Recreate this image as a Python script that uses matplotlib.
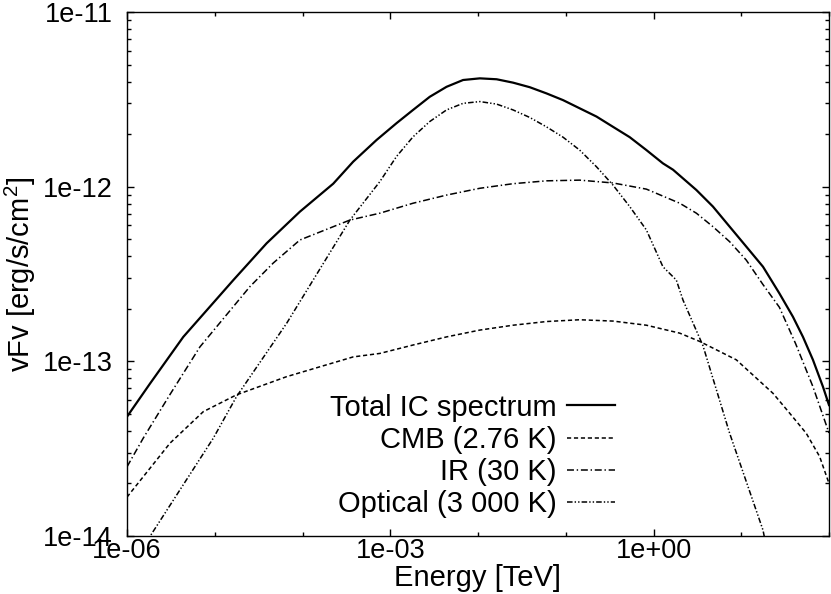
import matplotlib
matplotlib.use('Agg')
import matplotlib.pyplot as plt
from matplotlib.ticker import FixedLocator, LogLocator, FuncFormatter, NullFormatter

plt.rcParams['font.family'] = ['Liberation Sans', 'DejaVu Sans']
plt.rcParams['mathtext.fontset'] = 'custom'
plt.rcParams['mathtext.rm'] = 'Liberation Sans'
plt.rcParams['lines.scale_dashes'] = False

# energies in TeV, fluxes vFv in erg/s/cm^2
total_e = [1.00e-6, 1.83e-6, 4.38e-6, 1.63e-5, 3.90e-5, 9.33e-5, 2.24e-4, 3.78e-4,
           6.98e-4, 1.18e-3, 1.82e-3, 2.82e-3, 4.38e-3, 6.76e-3, 1.05e-2, 1.63e-2,
           2.51e-2, 3.89e-2, 6.03e-2, 9.31e-2, 0.144, 0.224, 0.346, 0.536, 0.830,
           1.28, 1.67, 3.08, 4.76, 7.38, 11.4, 17.7, 27.2, 38.8, 50.5, 65.6, 85.3, 100.0]
total_f = [4.82e-14, 7.46e-14, 1.38e-13, 2.92e-13, 4.74e-13, 7.19e-13, 1.04e-12, 1.39e-12,
           1.85e-12, 2.31e-12, 2.75e-12, 3.27e-12, 3.73e-12, 4.08e-12, 4.17e-12, 4.12e-12,
           3.94e-12, 3.71e-12, 3.42e-12, 3.13e-12, 2.81e-12, 2.52e-12, 2.20e-12, 1.92e-12,
           1.62e-12, 1.36e-12, 1.25e-12, 9.57e-13, 7.69e-13, 5.90e-13, 4.54e-13, 3.48e-13,
           2.45e-13, 1.80e-13, 1.38e-13, 1.02e-13, 7.16e-14, 5.62e-14]

cmb_e = [1.00e-6, 3.09e-6, 7.40e-6, 1.77e-5, 6.59e-5, 3.78e-4, 7.62e-4, 1.82e-3,
         4.38e-3, 1.05e-2, 2.51e-2, 6.03e-2, 0.144, 0.346, 0.830, 1.99, 3.36, 8.79,
         23.0, 35.6, 55.1, 78.2, 100.0]
cmb_f = [1.67e-14, 3.40e-14, 5.15e-14, 6.43e-14, 8.17e-14, 1.06e-13, 1.11e-13, 1.24e-13,
         1.38e-13, 1.51e-13, 1.61e-13, 1.69e-13, 1.73e-13, 1.70e-13, 1.61e-13, 1.45e-13,
         1.30e-13, 1.02e-13, 6.56e-14, 5.05e-14, 3.87e-14, 2.85e-14, 2.00e-14]

ir_e = [1.00e-6, 1.53e-6, 3.09e-6, 6.78e-6, 2.52e-5, 4.63e-5, 9.33e-5, 3.47e-4,
        7.62e-4, 1.82e-3, 4.38e-3, 1.05e-2, 2.51e-2, 6.03e-2, 0.144, 0.346, 0.830,
        1.99, 3.08, 4.76, 7.38, 11.4, 17.7, 27.2, 41.7, 65.6, 100.0]
ir_f = [2.49e-14, 3.63e-14, 6.46e-14, 1.21e-13, 2.68e-13, 3.65e-13, 4.95e-13, 6.44e-13,
        7.05e-13, 8.04e-13, 8.95e-13, 9.79e-13, 1.04e-12, 1.08e-12, 1.09e-12, 1.05e-12,
        9.68e-13, 8.04e-13, 7.05e-13, 5.90e-13, 4.84e-13, 3.80e-13, 2.75e-13, 2.04e-13,
        1.26e-13, 7.16e-14, 3.89e-14]

opt_e = [1.60e-6, 9.62e-6, 1.77e-5, 6.59e-5, 3.47e-4, 7.62e-4, 1.18e-3, 1.82e-3,
         2.82e-3, 4.38e-3, 6.76e-3, 1.05e-2, 1.63e-2, 2.51e-2, 3.89e-2, 6.03e-2,
         9.31e-2, 0.144, 0.224, 0.346, 0.536, 0.830, 1.28, 1.82, 2.17, 3.66, 7.38,
         17.7, 19.1]
opt_f = [8.97e-15, 3.63e-14, 6.28e-14, 1.65e-13, 6.44e-13, 1.07e-12, 1.49e-12, 1.93e-12,
         2.36e-12, 2.75e-12, 3.00e-12, 3.07e-12, 2.97e-12, 2.75e-12, 2.49e-12, 2.20e-12,
         1.92e-12, 1.62e-12, 1.30e-12, 1.02e-12, 7.69e-13, 5.65e-13, 3.48e-13, 2.92e-13,
         2.24e-13, 1.23e-13, 3.87e-14, 1.08e-14, 8.9e-15]

fig = plt.figure(figsize=(8.31, 5.94), dpi=100)
ax = fig.add_axes([127/831, 1 - 536/594, 702/831, 524/594])

ax.plot(total_e, total_f, color='black', lw=1.6, label='Total IC spectrum')
ax.plot(cmb_e, cmb_f, color='black', lw=1.1, linestyle=(0, (3, 2)), label='CMB (2.76 K)')
ax.plot(ir_e, ir_f, color='black', lw=1.1, linestyle=(0, (5, 2, 1, 2)), label='IR (30 K)')
ax.plot(opt_e, opt_f, color='black', lw=1.1, linestyle=(0, (4, 1.5, 1, 1.5, 1, 1.5)),
        label='Optical (3 000 K)')

ax.set_xscale('log')
ax.set_yscale('log')
ax.set_xlim(1e-6, 1e2)
ax.set_ylim(1e-14, 1e-11)

fmt = FuncFormatter(lambda v, p: f"{v:.0e}")
ax.xaxis.set_major_locator(FixedLocator([1e-6, 1e-3, 1e0]))
ax.xaxis.set_minor_locator(LogLocator(base=10, subs=(1.0,), numticks=20))
ax.xaxis.set_major_formatter(fmt)
ax.xaxis.set_minor_formatter(NullFormatter())
ax.yaxis.set_major_locator(LogLocator(base=10, numticks=10))
ax.yaxis.set_minor_locator(LogLocator(base=10, subs=range(2, 10), numticks=10))
ax.yaxis.set_major_formatter(fmt)
ax.yaxis.set_minor_formatter(NullFormatter())

ax.tick_params(which='both', direction='in', top=True, right=True, width=1)
ax.tick_params(which='major', length=5)
ax.tick_params(which='minor', length=3)
ax.tick_params(axis='y', labelsize=19.5, pad=10.5)
ax.tick_params(axis='x', labelsize=19.5, pad=1.5)
for s in ax.spines.values():
    s.set_linewidth(1.0)

ax.set_xlabel('Energy [TeV]', fontsize=21, labelpad=0)
ax.set_ylabel(r'vFv [erg/s/cm$^\mathregular{2}$]', fontsize=21)
ax.yaxis.set_label_coords(-0.127, 0.5)

ax.legend(loc='center right', bbox_to_anchor=(0.695, 0.153), frameon=False,
          markerfirst=False, fontsize=21, handlelength=1.65, handletextpad=0.35,
          labelspacing=0.14, borderpad=0, borderaxespad=0)

fig.savefig('out.png', dpi=100)
